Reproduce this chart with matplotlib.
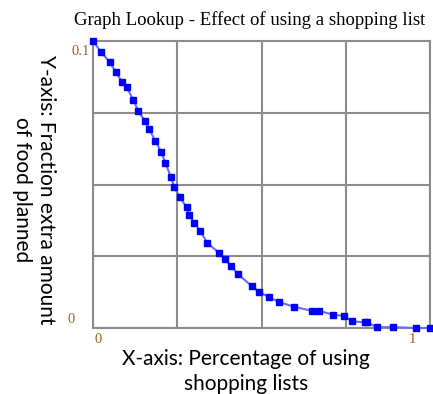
import matplotlib
matplotlib.use("Agg")
import matplotlib.pyplot as plt

# lookup points
use_fraction = [0.0, 0.023, 0.050, 0.068, 0.086, 0.100, 0.120, 0.134, 0.154,
                0.167, 0.185, 0.203, 0.215, 0.231, 0.241, 0.258, 0.278, 0.285,
                0.301, 0.318, 0.339, 0.375, 0.392, 0.409, 0.431, 0.471, 0.493,
                0.523, 0.553, 0.597, 0.649, 0.671, 0.713, 0.745, 0.769, 0.807,
                0.814, 0.842, 0.889, 0.958, 1.0]
extra_food = [0.1, 0.0963, 0.0926, 0.0891, 0.0858, 0.0839, 0.0794, 0.0756,
              0.0722, 0.0692, 0.0652, 0.0612, 0.0574, 0.0527, 0.0491, 0.0455,
              0.0420, 0.0394, 0.0367, 0.0338, 0.0297, 0.0260, 0.0239, 0.0216,
              0.0187, 0.0146, 0.0126, 0.0107, 0.0090, 0.0074, 0.0060, 0.0060,
              0.0046, 0.0042, 0.0023, 0.0020, 0.0020, 0.0003, 0.0003, 0.0, 0.0]

x_ticks = [0, 1]
x_tick_labels = ["0", "1"]
y_ticks = [0, 0.1]
y_tick_labels = ["0", "0.1"]

fig = plt.figure(figsize=(4.33, 3.94), dpi=100)
ax = fig.add_axes([0.2148, 0.1675, 0.7783, 0.7284])

ax.plot(use_fraction, extra_food, color="#6a6aff", linewidth=1.5,
        marker="s", markersize=3.7, markerfacecolor="#0000ff",
        markeredgecolor="#0000ff", clip_on=False, zorder=3)

ax.set_xlim(0, 1)
ax.set_ylim(0, 0.1)
ax.set_xticks([0, 0.25, 0.5, 0.75, 1])
ax.set_yticks([0, 0.025, 0.05, 0.075, 0.1])
ax.grid(True, color="#8c8c8c", linewidth=1.5)
ax.tick_params(length=0, labelbottom=False, labelleft=False)
for s in ax.spines.values():
    s.set_color("#8c8c8c")
    s.set_linewidth(1.5)

# sparse labels only at the ends, like the source tool draws them
tick_font = dict(family="Liberation Serif", fontsize=10.5, color="#a0601a")
for v, lab, ha in zip(x_ticks, x_tick_labels, ["left", "right"]):
    ax.annotate(lab, (v, 0), xycoords=("data", "axes fraction"),
                xytext=(1 if ha == "left" else -14, -5),
                textcoords="offset pixels", ha=ha, va="top", **tick_font)
for v, lab, off, va in zip(y_ticks, y_tick_labels, [(-18, 2), (-3, -4)],
                           ["bottom", "top"]):
    ax.annotate(lab, (0, v), xycoords=("axes fraction", "data"),
                xytext=off, textcoords="offset pixels", ha="right", va=va,
                **tick_font)

fig.text(0.576, 0.949, "Graph Lookup - Effect of using a shopping list",
         ha="center", va="center", family="Liberation Serif", fontsize=13.5)

label_font = dict(family="Lato", fontsize=15)
fig.text(0.568, 0.058, "X-axis: Percentage of using\nshopping lists",
         ha="center", va="center", linespacing=1.3, **label_font)
fig.text(0.0785, 0.518, "Y-axis: Fraction extra amount\nof food planned",
         ha="center", va="center", rotation=-90, linespacing=1.3,
         **label_font)

fig.savefig("out.png", dpi=100)
